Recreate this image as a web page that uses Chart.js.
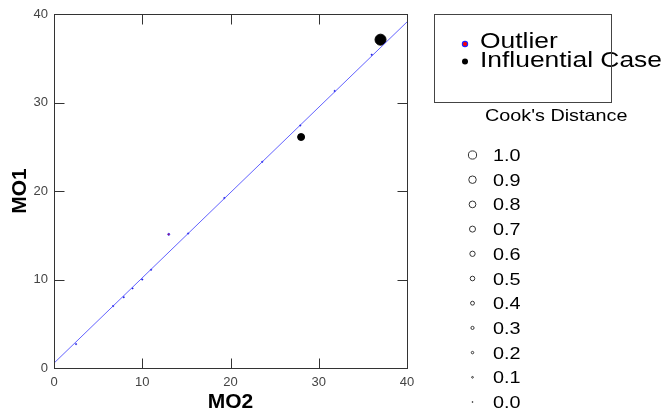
<!DOCTYPE html>
<html>
<head>
<meta charset="utf-8">
<script src="https://cdn.jsdelivr.net/npm/chart.js@4/dist/chart.umd.min.js"></script>
<style>
  html, body { margin: 0; padding: 0; background: #fff; }
  #wrap { width: 661px; height: 416px; }
</style>
</head>
<body>
<div id="wrap"><canvas id="c" width="661" height="416"></canvas></div>
<script>
// Cases: MO2 on the x axis, MO1 on the y axis
const mo2 = [2.5, 6.7, 7.9, 8.9, 10.0, 11.0, 15.2, 19.3, 23.6, 27.9, 31.8, 36.0, 13.0, 28.0, 37.0];
const mo1 = [2.7, 7.0, 8.0, 9.0, 10.0, 11.1, 15.2, 19.2, 23.3, 27.4, 31.3, 35.4, 15.1, 26.1, 37.1];
const cooksD = [0.06, 0.06, 0.06, 0.06, 0.06, 0.06, 0.06, 0.06, 0.06, 0.06, 0.06, 0.06, 0.14, 0.83, 1.39];
const caseType = ['case', 'case', 'case', 'case', 'case', 'case', 'case', 'case', 'case', 'case', 'case', 'case',
                  'outlier', 'influential', 'influential'];

// Fitted regression line end points
const fitX = [0, 40];
const fitY = [0.55, 39.1];

const axisTicks = [0, 10, 20, 30, 40];
const legendLabels = ['Outlier', 'Influential Case'];
const cooksLevels = [1.0, 0.9, 0.8, 0.7, 0.6, 0.5, 0.4, 0.3, 0.2, 0.1, 0.0];

const FONT = "'Liberation Sans', Arial, sans-serif";

// Marker size grows with Cook's distance
function radiusFor(d) { return 0.5 + 3.6 * d; }

function pointsOf(type) {
  const pts = [], radii = [];
  mo2.forEach((x, i) => {
    if (caseType[i] === type) { pts.push({ x: x, y: mo1[i] }); radii.push(radiusFor(cooksD[i])); }
  });
  return { pts, radii };
}
const plain = pointsOf('case');
const outl = pointsOf('outlier');
const infl = pointsOf('influential');

// Box around the plot with inward ticks on all four sides
const framePlugin = {
  id: 'frame',
  afterDraw(chart) {
    const { ctx, chartArea: a, scales: { x, y } } = chart;
    const L = Math.round(a.left) + 0.5, R = Math.round(a.right) + 0.5;
    const T = Math.round(a.top) + 0.5, B = Math.round(a.bottom) + 0.5;
    ctx.save();
    ctx.strokeStyle = '#333';
    ctx.lineWidth = 1;
    ctx.strokeRect(L, T, R - L, B - T);
    ctx.beginPath();
    axisTicks.slice(1, -1).forEach(v => {
      const px = Math.round(x.getPixelForValue(v)) + 0.5;
      ctx.moveTo(px, B); ctx.lineTo(px, B - 10);
      ctx.moveTo(px, T); ctx.lineTo(px, T + 10);
      const py = Math.round(y.getPixelForValue(v)) + 0.5;
      ctx.moveTo(L, py); ctx.lineTo(L + 10, py);
      ctx.moveTo(R, py); ctx.lineTo(R - 10, py);
    });
    ctx.stroke();
    ctx.restore();
  }
};

// Case-type key and Cook's distance size key at the right
const sideLegendPlugin = {
  id: 'sideLegend',
  afterDraw(chart) {
    const ctx = chart.ctx;
    ctx.save();
    const stretch = 1.2;
    function text(str, x, y, size) {
      ctx.save();
      ctx.translate(x, y);
      ctx.scale(stretch, 1);
      ctx.font = size + 'px ' + FONT;
      ctx.fillStyle = '#000';
      ctx.textBaseline = 'alphabetic';
      ctx.fillText(str, 0, 0);
      ctx.restore();
    }
    // marker: outlier (red with blue ring), influential (black)
    ctx.beginPath(); ctx.arc(465, 44, 2.6, 0, Math.PI * 2);
    ctx.fillStyle = '#ff0000'; ctx.fill();
    ctx.strokeStyle = '#2020ff'; ctx.lineWidth = 1.2; ctx.stroke();
    ctx.beginPath(); ctx.arc(465, 61.5, 3, 0, Math.PI * 2);
    ctx.fillStyle = '#000'; ctx.fill();
    text(legendLabels[0], 480, 48, 22);
    text(legendLabels[1], 480, 66.5, 22);
    ctx.strokeStyle = '#444'; ctx.lineWidth = 1;
    ctx.strokeRect(434.5, 14.5, 177, 88);

    text("Cook's Distance", 485, 121, 16.5);
    cooksLevels.forEach((d, i) => {
      const cy = 155 + i * 24.7;
      ctx.beginPath();
      ctx.arc(472.5, cy, radiusFor(d), 0, Math.PI * 2);
      ctx.fillStyle = '#fff'; ctx.fill();
      ctx.strokeStyle = '#333'; ctx.lineWidth = 1; ctx.stroke();
      text(d.toFixed(1), 493, cy + 6, 16.5);
    });
    ctx.restore();
  }
};

const tickFont = { family: FONT, size: 13 };

new Chart(document.getElementById('c'), {
  type: 'scatter',
  data: {
    datasets: [
      {
        type: 'line',
        data: fitX.map((x, i) => ({ x: x, y: fitY[i] })),
        borderColor: 'rgba(70,70,255,0.85)',
        borderWidth: 1,
        pointRadius: 0,
        fill: false
      },
      {
        data: plain.pts,
        pointRadius: plain.radii,
        backgroundColor: '#1010e0',
        borderColor: '#1010e0',
        borderWidth: 0.5
      },
      {
        data: outl.pts,
        pointRadius: outl.radii,
        backgroundColor: '#ff0000',
        borderColor: '#3030ff',
        borderWidth: 1
      },
      {
        data: infl.pts,
        pointRadius: infl.radii,
        backgroundColor: '#000',
        borderColor: '#000',
        borderWidth: 1
      }
    ]
  },
  options: {
    responsive: false,
    animation: false,
    devicePixelRatio: 1,
    layout: { padding: { left: 0, top: 14, right: 254, bottom: 0 } },
    plugins: { legend: { display: false }, tooltip: { enabled: false } },
    scales: {
      x: {
        type: 'linear', min: 0, max: 40,
        afterBuildTicks(s) { s.ticks = axisTicks.map(v => ({ value: v })); },
        afterFit(s) { s.height = 48; },
        ticks: { font: tickFont, color: '#444', padding: 7 },
        grid: { display: false, drawTicks: false },
        border: { display: false },
        title: { display: true, text: 'MO2', color: '#000',
                 font: { family: FONT, size: 21, weight: 'bold' }, padding: { top: 0, bottom: 1 } }
      },
      y: {
        type: 'linear', min: 0, max: 40,
        afterBuildTicks(s) { s.ticks = axisTicks.map(v => ({ value: v })); },
        afterFit(s) { s.width = 54; },
        ticks: { font: tickFont, color: '#444', padding: 6 },
        grid: { display: false, drawTicks: false },
        border: { display: false },
        title: { display: true, text: 'MO1', color: '#000',
                 font: { family: FONT, size: 21, weight: 'bold' }, padding: { top: 8, bottom: 0 } }
      }
    }
  },
  plugins: [framePlugin, sideLegendPlugin]
});
</script>
</body>
</html>
